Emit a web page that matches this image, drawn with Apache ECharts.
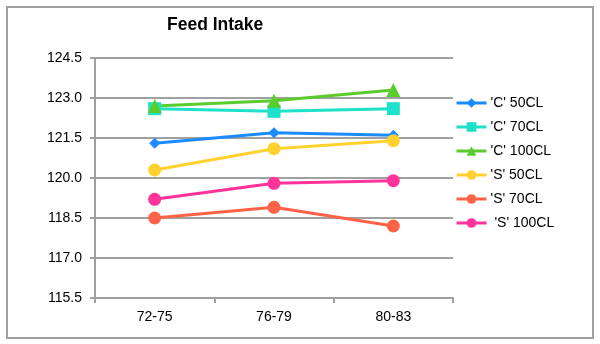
<!DOCTYPE html>
<html>
<head>
<meta charset="utf-8">
<script src="https://cdn.jsdelivr.net/npm/echarts@6/dist/echarts.min.js"></script>
<style>
  html, body { margin: 0; padding: 0; background: #ffffff; }
  #chart { width: 600px; height: 344px; }
</style>
</head>
<body>
<div id="chart"></div>
<script>
// Feed intake by period for each treatment group
const periods = ['72-75', '76-79', '80-83'];

const c50 = [121.3, 121.7, 121.6];
const c70 = [122.6, 122.5, 122.6];
const c100 = [122.7, 122.9, 123.3];
const s50 = [120.3, 121.1, 121.4];
const s70 = [118.5, 118.9, 118.2];
const s100 = [119.2, 119.8, 119.9];

const seriesNames = ["'C' 50CL", "'C' 70CL", "'C' 100CL", "'S' 50CL", "'S' 70CL", " 'S' 100CL"];
const seriesValues = [c50, c70, c100, s50, s70, s100];
const seriesColors = ['#1a8cff', '#1fe0c8', '#5acd2c', '#ffd12e', '#ff6347', '#ff3399'];
const seriesSymbols = ['diamond', 'rect', 'triangle', 'circle', 'circle', 'circle'];
const symbolSizes = [11, 13, 14, 13, 13, 13];

const yMin = 115.5, yMax = 124.5, yStep = 1.5;

const FONT = '"Liberation Sans", Arial, sans-serif';

const chart = echarts.init(document.getElementById('chart'), null, { renderer: 'canvas' });

const series = seriesNames.map((name, i) => ({
  name: name,
  type: 'line',
  data: seriesValues[i],
  symbol: seriesSymbols[i],
  symbolSize: symbolSizes[i],
  showAllSymbol: true,
  itemStyle: { color: seriesColors[i] },
  lineStyle: { color: seriesColors[i], width: 3 },
  emphasis: { disabled: true },
  animation: false
}));

chart.setOption({
  animation: false,
  backgroundColor: '#ffffff',
  title: {
    text: 'Feed Intake',
    left: 162,
    top: 11,
    textStyle: { fontFamily: FONT, fontSize: 17.5, fontWeight: 'bold', color: '#000000' }
  },
  graphic: [{
    type: 'rect',
    shape: { x: 7, y: 7, width: 586, height: 331 },
    style: { fill: 'none', stroke: '#a0a0a0', lineWidth: 2 },
    silent: true,
    z: -1
  }],
  legend: {
    orient: 'vertical',
    left: 455,
    top: 96,
    padding: 0,
    itemWidth: 30,
    itemHeight: 12,
    itemGap: 10,
    lineStyle: { width: 3 },
    textStyle: { fontFamily: FONT, fontSize: 14, color: '#000000', padding: [0, 0, 0, -1] },
    data: seriesNames
  },
  grid: { left: 95, right: 147, top: 58, height: 240, containLabel: false },
  xAxis: {
    type: 'category',
    data: periods,
    boundaryGap: true,
    axisLine: { show: true, lineStyle: { color: '#a0a0a0', width: 2 } },
    axisTick: { show: true, length: 5, lineStyle: { color: '#a0a0a0', width: 2 } },
    axisLabel: { fontFamily: FONT, fontSize: 14, color: '#000000', margin: 12 },
    splitLine: { show: false }
  },
  yAxis: {
    type: 'value',
    min: yMin,
    max: yMax,
    interval: yStep,
    axisLine: { show: true, lineStyle: { color: '#a0a0a0', width: 2 } },
    axisTick: { show: true, length: 5, lineStyle: { color: '#a0a0a0', width: 2 } },
    axisLabel: {
      fontFamily: FONT, fontSize: 14, color: '#000000', margin: 13,
      formatter: v => v.toFixed(1)
    },
    splitLine: { show: true, lineStyle: { color: '#a0a0a0', width: 2 } }
  },
  series: series
});
</script>
</body>
</html>
